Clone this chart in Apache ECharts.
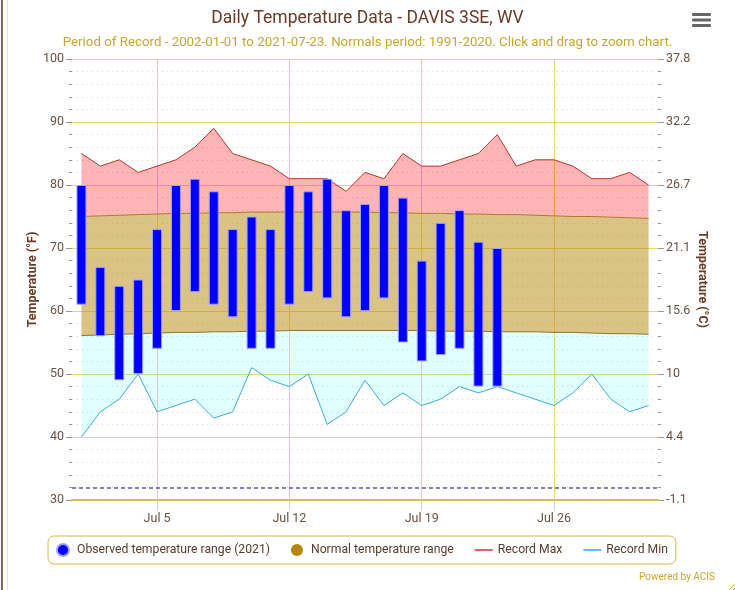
<!DOCTYPE html>
<html lang="en">
<head>
<meta charset="UTF-8">
<title>Daily Temperature Data - DAVIS 3SE, WV</title>
<script src="https://cdn.jsdelivr.net/npm/echarts@6.0.0/dist/echarts.min.js"></script>
<style>
	html, body { margin: 0; padding: 0; background: #fff; }
	#frame { position: absolute; left: 0; top: 0; width: 735px; height: 590px; }
	.edge1 { position: absolute; left: 1px; top: 0; width: 2px; height: 590px; background: #8a6656; }
	.edge2 { position: absolute; left: 7px; top: 0; width: 1px; height: 590px; background: #f2e2a6; }
	#chart { position: absolute; left: 0; top: 0; width: 735px; height: 590px; }
</style>
</head>
<body>
<div id="frame">
	<div class="edge1"></div>
	<div class="edge2"></div>
	<div id="chart"></div>
</div>
<script>
// July days
var days = [1,2,3,4,5,6,7,8,9,10,11,12,13,14,15,16,17,18,19,20,21,22,23,24,25,26,27,28,29,30,31];
var xTicks = [5, 12, 19, 26];

// observed 2021 (Jul 1 - Jul 23)
var obsLow  = [61,56,49,50,54,60,63,61,59,54,54,61,63,62,59,60,62,55,52,53,54,48,48];
var obsHigh = [80,67,64,65,73,80,81,79,73,75,73,80,79,81,76,77,80,78,68,74,76,71,70];

// normals 1991-2020
var normHigh = [75.0,75.1,75.2,75.3,75.4,75.5,75.5,75.6,75.6,75.7,75.7,75.7,75.7,75.7,75.7,75.7,
                75.6,75.6,75.5,75.5,75.4,75.4,75.3,75.3,75.2,75.1,75.0,75.0,74.9,74.8,74.7];
var normLow  = [56.1,56.2,56.3,56.4,56.5,56.6,56.6,56.7,56.7,56.8,56.8,56.9,56.9,56.9,56.9,56.9,
                56.9,56.9,56.9,56.8,56.8,56.8,56.7,56.7,56.7,56.6,56.6,56.5,56.4,56.4,56.3];

// records
var recMax = [85,83,84,82,83,84,86,89,85,84,83,81,81,81,79,82,81,85,83,83,84,85,88,83,84,84,83,81,81,82,80];
var recMin = [40,44,46,50,44,45,46,43,44,51,49,48,50,42,44,49,45,47,45,46,48,47,48,47,46,45,47,50,46,44,45];

var freezing = 32;

function diff(a, b) {
	return a.map(function (v, i) { return +(v - b[i]).toFixed(2); });
}
function toC(f) {
	return parseFloat(((f - 32) * 5 / 9).toFixed(1));
}
function isWeekTick(index) {
	return xTicks.indexOf(days[index]) >= 0;
}

var labelColor = '#6b5142';
var brown = '#6b3a24';
var gold = '#c9a530';
var lineIcon = 'path://M0,0 L20,0 L20,2 L0,2 Z';

var myChart = echarts.init(document.getElementById('chart'));
var option = {
	animation: false,
	textStyle: { fontFamily: 'Roboto' },
	title: [{
		text: 'Daily Temperature Data - DAVIS 3SE, WV',
		left: 'center', top: 5,
		textStyle: { fontSize: 17.5, fontWeight: 'normal', color: brown, fontFamily: 'Roboto' }
	}, {
		text: 'Period of Record - 2002-01-01 to 2021-07-23. Normals period: 1991-2020. Click and drag to zoom chart.',
		left: 'center', top: 31,
		textStyle: { fontSize: 13.3, fontWeight: 'normal', color: gold, fontFamily: 'Roboto' }
	}, {
		text: 'Powered by ACIS',
		right: 15, top: 567,
		textStyle: { fontSize: 10, fontWeight: 'normal', color: gold, fontFamily: 'Roboto' }
	}],
	legend: {
		left: 48, top: 536,
		padding: [7, 8, 7, 8],
		borderColor: '#d8b64a', borderWidth: 1, borderRadius: 6,
		itemWidth: 18, itemHeight: 12, itemGap: 21,
		textStyle: { color: '#5b3a2a', fontSize: 12.2, fontFamily: 'Roboto' },
		data: [
			{ name: 'Observed temperature range (2021)', icon: 'circle', itemStyle: { color: '#0000ff' } },
			{ name: 'Normal temperature range', icon: 'circle', itemStyle: { color: '#b8860b' } },
			{ name: 'Record Max', icon: lineIcon },
			{ name: 'Record Min', icon: lineIcon }
		]
	},
	grid: { left: 72, right: 77, top: 59, bottom: 90 },
	xAxis: [{
		type: 'category', data: days, boundaryGap: true,
		axisLine: { show: true, onZero: false, lineStyle: { color: '#d9bb55', width: 2 } },
		axisTick: { show: true, interval: isWeekTick, alignWithLabel: true, length: 10, lineStyle: { color: '#ccd6eb' } },
		axisLabel: {
			interval: isWeekTick, margin: 12, color: labelColor, fontSize: 12.5,
			formatter: function (v) { return 'Jul ' + v; }
		},
		splitLine: { show: false }
	}, {
		// same span as the day bands; only its weekly grid lines are drawn
		type: 'value', min: 0.5, max: 31.5, position: 'bottom',
		axisLine: { show: false },
		axisTick: { show: false, customValues: xTicks },
		axisLabel: { show: false, customValues: xTicks },
		splitLine: { show: true, lineStyle: { color: '#f3d56f', width: 1 } }
	}],
	yAxis: [{
		type: 'value', min: 30, max: 100, interval: 10,
		name: 'Temperature (°F)', nameLocation: 'middle', nameGap: 33, nameRotate: 90,
		nameMoveOverlap: false,
		nameTextStyle: { color: brown, fontWeight: 'bold', fontSize: 12.5 },
		axisLine: { show: false },
		axisTick: { show: true, length: 6, lineStyle: { color: '#999' } },
		minorTick: { show: true, splitNumber: 5, length: 3, lineStyle: { color: '#999' } },
		axisLabel: { color: labelColor, fontSize: 12.5, margin: 8 },
		splitLine: { lineStyle: { color: '#f1d36e', width: 1 } },
		minorSplitLine: { show: true, lineStyle: { color: '#d8d8d8', type: [1, 4] } }
	}, {
		type: 'value', min: 30, max: 100, interval: 10, position: 'right',
		name: 'Temperature (°C)', nameLocation: 'middle', nameGap: 38, nameRotate: -90,
		nameMoveOverlap: false,
		nameTextStyle: { color: brown, fontWeight: 'bold', fontSize: 12.5 },
		axisLine: { show: false },
		axisTick: { show: true, length: 6, lineStyle: { color: '#999' } },
		minorTick: { show: true, splitNumber: 5, length: 3, lineStyle: { color: '#999' } },
		axisLabel: { color: labelColor, fontSize: 12.5, margin: 8, formatter: function (v) { return toC(v); } },
		splitLine: { show: false }
	}],
	series: [{
		name: 'base', type: 'line', stack: 'band', data: recMin,
		symbol: 'none', silent: true, lineStyle: { width: 0 }, z: 1
	}, {
		name: 'lowBand', type: 'line', stack: 'band', data: diff(normLow, recMin),
		symbol: 'none', silent: true,
		lineStyle: { width: 1, color: '#8f7433' },
		areaStyle: { color: 'rgba(0,255,255,0.12)', opacity: 1 }, z: 1
	}, {
		name: 'Normal temperature range', type: 'line', stack: 'band', data: diff(normHigh, normLow),
		symbol: 'none', silent: true, color: '#b8860b',
		lineStyle: { width: 1, color: '#b07a2a' },
		areaStyle: { color: 'rgba(184,134,11,0.5)', opacity: 1 }, z: 1
	}, {
		name: 'highBand', type: 'line', stack: 'band', data: diff(recMax, normHigh),
		symbol: 'none', silent: true, lineStyle: { width: 0 },
		areaStyle: { color: 'rgba(255,0,0,0.29)', opacity: 1 }, z: 1
	}, {
		name: 'Record Max', type: 'line', data: recMax, symbol: 'none',
		color: '#e0505a', lineStyle: { width: 1, color: '#b8352c' }, z: 3
	}, {
		name: 'Record Min', type: 'line', data: recMin, symbol: 'none',
		color: '#55b6e8', lineStyle: { width: 1, color: '#3eaad8' }, z: 3,
		markLine: {
			silent: true, symbol: 'none', label: { show: false }, z: 3,
			lineStyle: { color: '#5a5aa8', type: [4, 3], width: 1.5 },
			data: [{ yAxis: freezing }]
		}
	}, {
		name: 'obsBase', type: 'bar', stack: 'obs', data: obsLow, barWidth: 10,
		silent: true, itemStyle: { color: 'transparent' }, z: 4
	}, {
		name: 'Observed temperature range (2021)', type: 'bar', stack: 'obs',
		data: diff(obsHigh, obsLow), barWidth: 10, z: 4, color: '#0000ff',
		itemStyle: { color: '#0000ff', borderColor: '#a0a0ff', borderWidth: 1 }
	}],
	graphic: [{
		type: 'group', left: 692, top: 13,
		children: [
			{ type: 'rect', shape: { x: 0, y: 0, width: 19, height: 3, r: 1 }, style: { fill: '#666' } },
			{ type: 'rect', shape: { x: 0, y: 5.5, width: 19, height: 3, r: 1 }, style: { fill: '#666' } },
			{ type: 'rect', shape: { x: 0, y: 11, width: 19, height: 3, r: 1 }, style: { fill: '#666' } }
		]
	}, {
		type: 'group', left: 725, top: 580,
		children: [
			{ type: 'line', shape: { x1: 0, y1: 9, x2: 9, y2: 0 }, style: { stroke: '#d4b040', lineWidth: 1 } },
			{ type: 'line', shape: { x1: 4, y1: 9, x2: 9, y2: 4 }, style: { stroke: '#d4b040', lineWidth: 1 } }
		]
	}]
};
myChart.setOption(option);
</script>
</body>
</html>
